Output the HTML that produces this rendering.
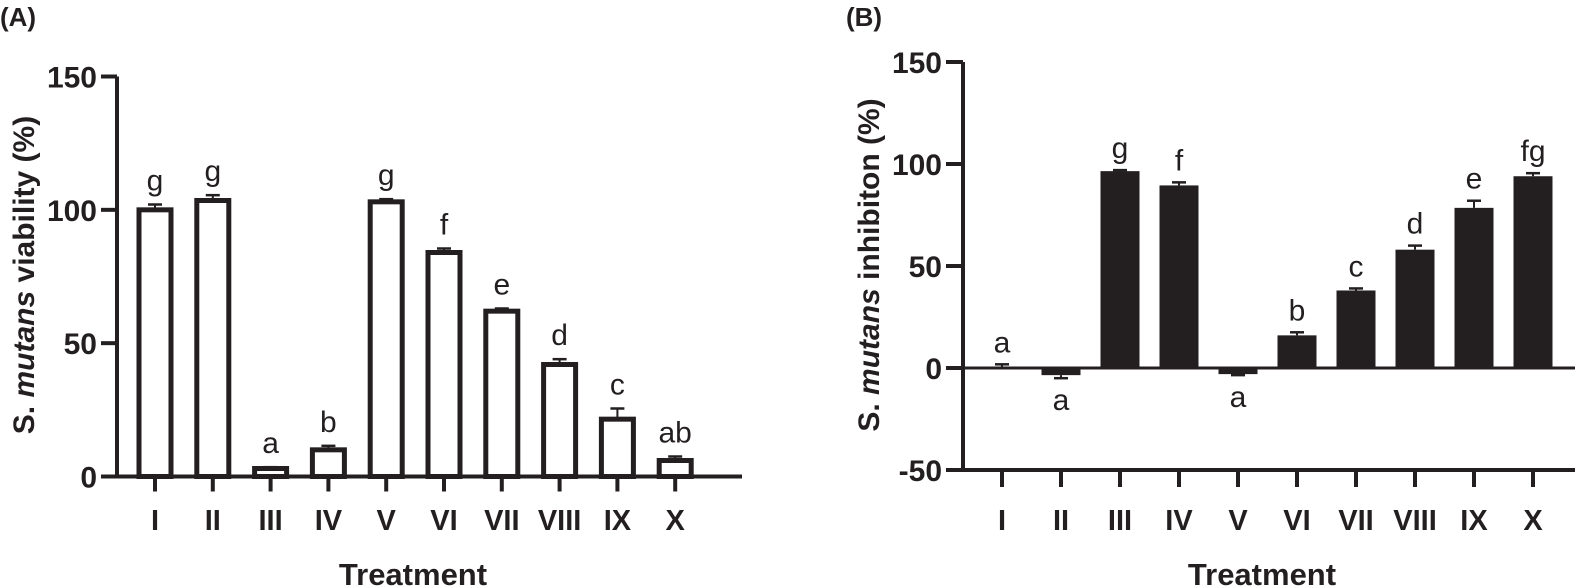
<!DOCTYPE html>
<html><head><meta charset="utf-8"><style>
html,body{margin:0;padding:0;background:#fff;}
svg{display:block;font-family:"Liberation Sans",Arial,sans-serif;}
</style></head><body>
<svg id="s" width="1576" height="587" viewBox="0 0 1576 587" xmlns="http://www.w3.org/2000/svg"></svg>
<script>
const s=document.getElementById('s');let h='';
const C='#231f20';
const cats=['I','II','III','IV','V','VI','VII','VIII','IX','X'];
h+=`<text x="0" y="26" font-size="26" font-weight="bold" fill="${C}">(A)</text>`;
h+=`<text x="846" y="26" font-size="26" font-weight="bold" fill="${C}">(B)</text>`;
// Panel A
{const ax=117,y0=476.5,k=400/150,x0=155,dx=57.8;const Y=v=>y0-v*k;
const vals=[100,103.5,3,10,103,84,62,42,21.5,6],err=[2,2,0.5,1.5,1,1.5,1,2,4,1.5],lab=['g','g','a','b','g','f','e','d','c','ab'];
h+=`<line x1="${ax}" y1="${Y(150)}" x2="${ax}" y2="${y0+2}" stroke="${C}" stroke-width="4"/>`;
h+=`<line x1="${ax-2}" y1="${y0}" x2="742" y2="${y0}" stroke="${C}" stroke-width="4"/>`;
[0,50,100,150].forEach(v=>{h+=`<line x1="${ax-16}" y1="${Y(v)}" x2="${ax}" y2="${Y(v)}" stroke="${C}" stroke-width="4"/><text x="${ax-20}" y="${Y(v)+11}" font-size="30" font-weight="bold" text-anchor="end" fill="${C}">${v}</text>`});
vals.forEach((v,i)=>{const cx=x0+dx*i;
h+=`<line x1="${cx}" y1="${y0}" x2="${cx}" y2="${y0+15}" stroke="${C}" stroke-width="4"/>`;
h+=`<line x1="${cx}" y1="${Y(v)}" x2="${cx}" y2="${Y(v+err[i])}" stroke="${C}" stroke-width="2"/><line x1="${cx-7}" y1="${Y(v+err[i])}" x2="${cx+7}" y2="${Y(v+err[i])}" stroke="${C}" stroke-width="2.5"/>`;
h+=`<rect x="${cx-16}" y="${Y(v)}" width="32" height="${y0-Y(v)}" fill="#fff" stroke="${C}" stroke-width="5"/>`;
h+=`<text x="${cx}" y="${Y(v+err[i])-14}" font-size="30" text-anchor="middle" fill="${C}">${lab[i]}</text>`;
h+=`<text x="${cx}" y="${530}" font-size="29" font-weight="bold" text-anchor="middle" fill="${C}">${cats[i]}</text>`;});
h+=`<text transform="translate(34,275) rotate(-90)" font-size="30" font-weight="bold" text-anchor="middle" fill="${C}">S. <tspan font-style="italic">mutans</tspan> viability (%)</text>`;
h+=`<text x="413" y="585" font-size="31" font-weight="bold" text-anchor="middle" fill="${C}">Treatment</text>`;}
// Panel B
{const ax=963,y0=368,k=204/100,x0=1002,dx=59;const Y=v=>y0-v*k;const yb=Y(-50);
const vals=[0.3,-3.5,96.5,89.5,-3,16,38,58,78.5,94],err=[1.5,1.5,0.5,1.5,0.5,1.5,1,2,3.5,1.5],lab=['a','a','g','f','a','b','c','d','e','fg'];
h+=`<line x1="${ax}" y1="${Y(150)}" x2="${ax}" y2="${yb+2}" stroke="${C}" stroke-width="4"/>`;
h+=`<line x1="${ax-2}" y1="${yb}" x2="1575" y2="${yb}" stroke="${C}" stroke-width="4"/>`;
h+=`<line x1="${ax}" y1="${y0}" x2="1575" y2="${y0}" stroke="${C}" stroke-width="3"/>`;
[-50,0,50,100,150].forEach(v=>{h+=`<line x1="${ax-17}" y1="${Y(v)}" x2="${ax}" y2="${Y(v)}" stroke="${C}" stroke-width="4"/><text x="${ax-21}" y="${Y(v)+11}" font-size="30" font-weight="bold" text-anchor="end" fill="${C}">${v}</text>`});
vals.forEach((v,i)=>{const cx=x0+dx*i;
h+=`<line x1="${cx}" y1="${yb}" x2="${cx}" y2="${yb+17}" stroke="${C}" stroke-width="4"/>`;
const e=v>=0?v+err[i]:v-err[i];
h+=`<line x1="${cx}" y1="${Y(v)}" x2="${cx}" y2="${Y(e)}" stroke="${C}" stroke-width="2"/><line x1="${cx-7}" y1="${Y(e)}" x2="${cx+7}" y2="${Y(e)}" stroke="${C}" stroke-width="2.5"/>`;
if(i>0){const t=Math.min(Y(v),y0),b=Math.max(Y(v),y0);h+=`<rect x="${cx-19.5}" y="${t}" width="39" height="${b-t}" fill="${C}"/>`;}
if(v>=0)h+=`<text x="${cx}" y="${Y(e)-12}" font-size="30" text-anchor="middle" fill="${C}">${lab[i]}</text>`;
else h+=`<text x="${cx}" y="${Y(e)+32}" font-size="30" text-anchor="middle" fill="${C}">${lab[i]}</text>`;
h+=`<text x="${cx}" y="${530}" font-size="29" font-weight="bold" text-anchor="middle" fill="${C}">${cats[i]}</text>`;});
h+=`<text transform="translate(879,265) rotate(-90)" font-size="30" font-weight="bold" text-anchor="middle" fill="${C}">S. <tspan font-style="italic">mutans</tspan> inhibiton (%)</text>`;
h+=`<text x="1262" y="585" font-size="31" font-weight="bold" text-anchor="middle" fill="${C}">Treatment</text>`;}
s.innerHTML=h;
</script>
</body></html>
